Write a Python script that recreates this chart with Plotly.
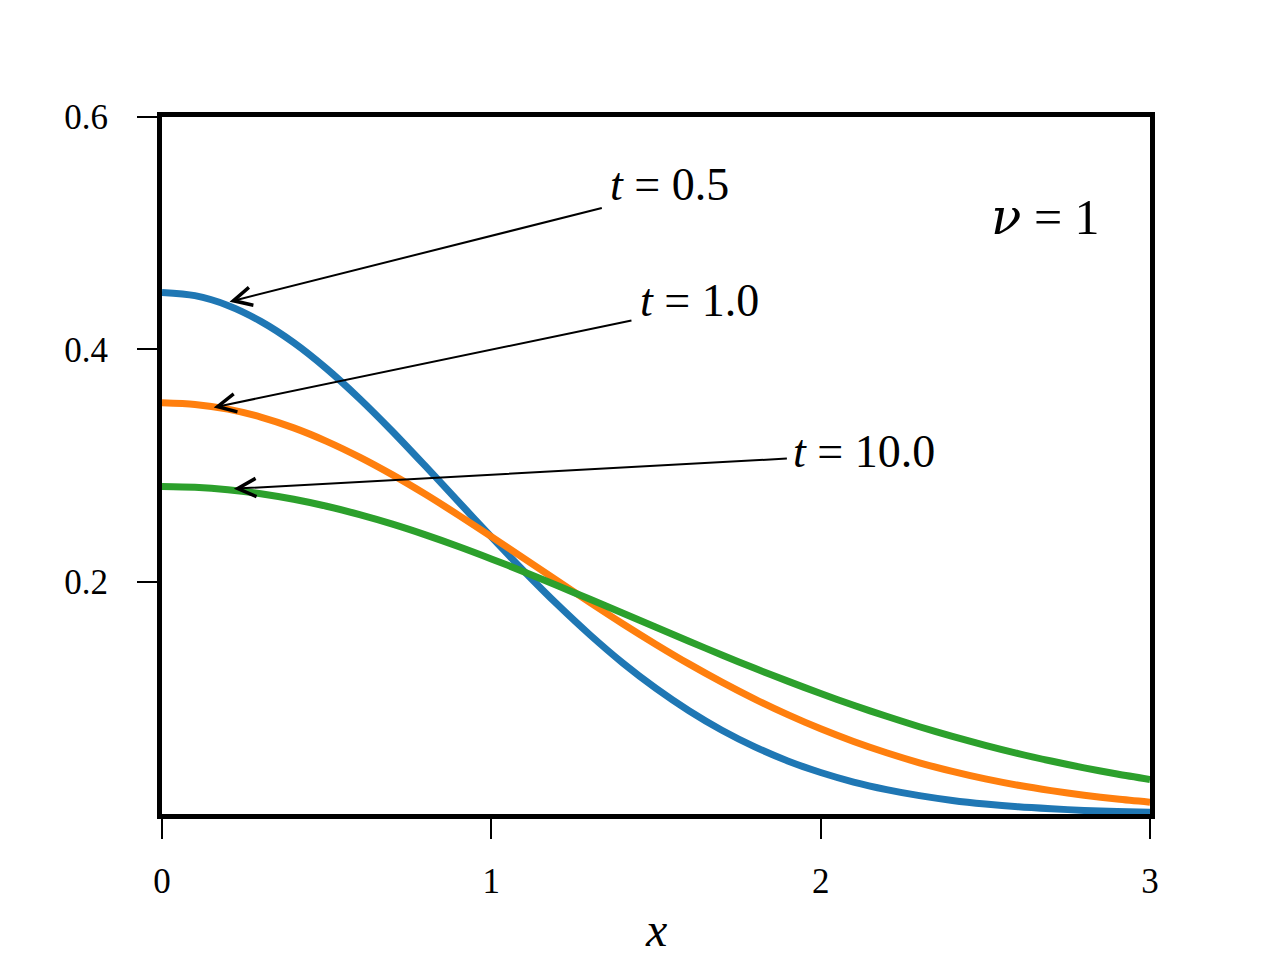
import plotly.graph_objects as go

# x positions at which the curves were read
x_vals = [0.0, 0.1, 0.2, 0.3, 0.4, 0.5, 0.6, 0.7, 0.8, 0.9,
          1.0, 1.1, 1.2, 1.3, 1.4, 1.5, 1.6, 1.7, 1.8, 1.9,
          2.0, 2.1, 2.2, 2.3, 2.4, 2.5, 2.6, 2.7, 2.8, 2.9, 3.0]

# densities
t05 = [0.4490, 0.4462, 0.4378, 0.4241, 0.4058, 0.3833, 0.3575, 0.3293, 0.2994, 0.2689,
       0.2385, 0.2088, 0.1805, 0.1541, 0.1298, 0.1081, 0.0889, 0.0721, 0.0578, 0.0457,
       0.0357, 0.0275, 0.0210, 0.0158, 0.0117, 0.0086, 0.0062, 0.0045, 0.0031, 0.0022, 0.0015]
t10 = [0.3540, 0.3526, 0.3485, 0.3417, 0.3324, 0.3208, 0.3072, 0.2919, 0.2752, 0.2573,
       0.2388, 0.2198, 0.2008, 0.1820, 0.1636, 0.1460, 0.1292, 0.1135, 0.0989, 0.0855,
       0.0733, 0.0624, 0.0527, 0.0441, 0.0367, 0.0302, 0.0247, 0.0201, 0.0162, 0.0129, 0.0102]
t100 = [0.2820, 0.2813, 0.2792, 0.2757, 0.2709, 0.2649, 0.2577, 0.2495, 0.2403, 0.2303,
        0.2196, 0.2084, 0.1967, 0.1848, 0.1728, 0.1607, 0.1487, 0.1369, 0.1254, 0.1144,
        0.1037, 0.0936, 0.0841, 0.0751, 0.0668, 0.0591, 0.0520, 0.0456, 0.0397, 0.0344, 0.0297]

series_names = ["t = 0.5", "t = 1.0", "t = 10.0"]
series_values = [t05, t10, t100]
colors = ["#1f77b4", "#ff7f0e", "#2ca02c"]

x_ticks = [0, 1, 2, 3]
x_ticklabels = ["0", "1", "2", "3"]
y_ticks = [0.2, 0.4, 0.6]
y_ticklabels = ["0.2", "0.4", "0.6"]

# annotation labels: arrow tip, arrow tail, text position (data coords)
ann_labels = ["<i>t</i> = 0.5", "<i>t</i> = 1.0", "<i>t</i> = 10.0"]
ann_tip = [(0.205, 0.441), (0.157, 0.350), (0.218, 0.280)]
ann_tail = [(1.340, 0.522), (1.430, 0.425), (1.902, 0.306)]
ann_text = [(1.355, 0.542), (1.445, 0.442), (1.910, 0.312)]

FONT = "Liberation Serif"

fig = go.Figure()
for name, vals, c in zip(series_names, series_values, colors):
    fig.add_trace(go.Scatter(
        x=x_vals, y=vals, mode="lines", name=name,
        line=dict(color=c, width=7, shape="spline", smoothing=0.8),
        showlegend=False,
    ))

annotations = []
for lab, tip, tail, tp in zip(ann_labels, ann_tip, ann_tail, ann_text):
    annotations.append(dict(
        x=tip[0], y=tip[1], ax=tail[0], ay=tail[1],
        xref="x", yref="y", axref="x", ayref="y",
        text="", showarrow=True, arrowhead=5, arrowsize=1.8,
        arrowwidth=2, arrowcolor="black", standoff=0, startstandoff=0,
    ))
    annotations.append(dict(
        x=tp[0], y=tp[1], xref="x", yref="y", text=lab, showarrow=False,
        xanchor="left", yanchor="middle",
        font=dict(family=FONT, size=46, color="black"),
    ))

annotations.append(dict(
    x=2.682, y=0.514, xref="x", yref="y",
    text="<span style=\"font-family:'DejaVu Serif'\"><i>ν</i></span> = 1",
    showarrow=False, xanchor="center", yanchor="middle",
    font=dict(family=FONT, size=50, color="black"),
))
annotations.append(dict(
    x=0.5, y=-0.2066, xref="paper", yref="paper", text="<i>x</i>", showarrow=False,
    xanchor="center", yanchor="bottom",
    font=dict(family=FONT, size=48, color="black"),
))

fig.update_layout(
    width=1280, height=960,
    margin=dict(l=154, r=138, t=109, b=154),
    paper_bgcolor="white", plot_bgcolor="white",
    annotations=annotations,
    font=dict(family=FONT, color="black"),
)
fig.update_xaxes(
    range=[0, 3], tickvals=x_ticks, ticktext=x_ticklabels,
    showgrid=False, zeroline=False,
    showline=True, mirror=True, linecolor="black", linewidth=5,
    ticks="outside", ticklen=20, tickwidth=2, tickcolor="black",
    ticklabelstandoff=12,
    tickfont=dict(family=FONT, size=35, color="black"),
)
fig.update_yaxes(
    range=[0, 0.6], tickvals=y_ticks, ticktext=y_ticklabels,
    showgrid=False, zeroline=False,
    showline=True, mirror=True, linecolor="black", linewidth=5,
    ticks="outside", ticklen=20, tickwidth=2, tickcolor="black",
    ticklabelstandoff=22,
    tickfont=dict(family=FONT, size=35, color="black"),
)

fig.write_html("out.html")
